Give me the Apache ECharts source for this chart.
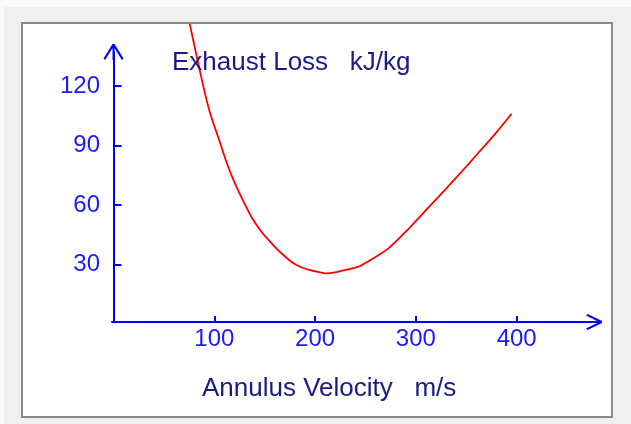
<!DOCTYPE html>
<html>
<head>
<meta charset="utf-8">
<script src="https://cdn.jsdelivr.net/npm/echarts@6/dist/echarts.min.js"></script>
<style>
html,body{margin:0;padding:0;background:#f9fafc;}
#chart{width:631px;height:424px;}
</style>
</head>
<body>
<div id="chart"></div>
<script>
// ---- data ----
var velocity    = [72, 76, 83, 90, 96, 105, 113, 121, 129, 137, 146, 154, 162, 171, 179, 187, 195, 204, 212, 220, 228, 236, 244, 252, 262, 272, 280, 290, 298, 312, 328, 344, 361, 378, 395];
var exhaustLoss = [161, 150.5, 134, 118, 106, 92.5, 80.3, 70.2, 61.7, 53.8, 47, 42.2, 37.8, 33.6, 30.4, 28.4, 27.1, 26.1, 25.4, 26.0, 27.0, 27.9, 29.0, 31.3, 34.3, 37.8, 41.5, 46.5, 50.8, 58.5, 67.1, 76, 85.7, 95.5, 106];
var xTicks = [100, 200, 300, 400];
var yTicks = [30, 60, 90, 120];
var titleText = 'Exhaust Loss   kJ/kg';
var xTitleText = 'Annulus Velocity   m/s';

var points = velocity.map(function (v, i) { return [v, exhaustLoss[i]]; });

var FONT = '"Liberation Sans", Arial, sans-serif';
var AXIS_BLUE = '#0000ff';
var LABEL_BLUE = '#1a1aff';
var NAVY = '#1a1a85';

var yArrow = 'path://M9,0 L11,0 L20,14.6 L18.4,16 L11,4 L11,16 L9,16 L9,4 L1.6,16 L0,14.6 Z';
var xArrow = 'path://M7,0 L9,0 L16,14.4 L14.4,16 L9,5 L9,16 L7,16 L7,5 L1.6,16 L0,14.4 Z';

var xMin = -1.5, xMax = 476.7;
var yMin = 0.9;

var chart = echarts.init(document.getElementById('chart'), null, {renderer: 'canvas'});
chart.setOption({
  backgroundColor: '#f9fafc',
  animation: false,
  graphic: [
    {type: 'rect', z: -10, silent: true, shape: {x: 4, y: 7, width: 627, height: 417}, style: {fill: '#f0f0f0'}},
    {type: 'rect', z: -9, silent: true, shape: {x: 22, y: 23, width: 590, height: 394}, style: {fill: '#ffffff', stroke: '#8a8a8a', lineWidth: 2}}
  ],
  title: [
    {text: titleText, left: 172, top: 50, padding: 0,
     textStyle: {fontFamily: FONT, fontSize: 26, fontWeight: 'normal', color: NAVY}},
    {text: xTitleText, left: 202, top: 376, padding: 0,
     textStyle: {fontFamily: FONT, fontSize: 26, fontWeight: 'normal', color: NAVY}}
  ],
  grid: [
    {left: 112, top: 52, right: 37, bottom: 102, outerBoundsMode: 'none', containLabel: false},
    {left: 112, top: 25, right: 37, bottom: 102, outerBoundsMode: 'none', containLabel: false}
  ],
  xAxis: [
    {type: 'value', gridIndex: 0, min: xMin, max: xMax,
     axisLine: {show: true, lineStyle: {color: AXIS_BLUE, width: 2}, symbol: ['none', xArrow], symbolSize: [16, 16]},
     axisTick: {show: true, inside: true, length: 6, lineStyle: {color: AXIS_BLUE, width: 2}, customValues: xTicks},
     axisLabel: {show: true, margin: 5, color: LABEL_BLUE, fontFamily: FONT, fontSize: 24, customValues: xTicks},
     splitLine: {show: false}},
    {type: 'value', gridIndex: 1, min: xMin, max: xMax, show: false}
  ],
  yAxis: [
    {type: 'value', gridIndex: 0, min: yMin, max: yMin + (322 - 52) / 1.981,
     axisLine: {show: true, lineStyle: {color: AXIS_BLUE, width: 2}, symbol: ['none', yArrow], symbolSize: [20, 16]},
     axisTick: {show: true, inside: true, length: 8, lineStyle: {color: AXIS_BLUE, width: 2}, customValues: yTicks},
     axisLabel: {show: true, margin: 12, color: LABEL_BLUE, fontFamily: FONT, fontSize: 24, customValues: yTicks},
     splitLine: {show: false}},
    {type: 'value', gridIndex: 1, min: yMin, max: yMin + (322 - 25) / 1.981, show: false}
  ],
  series: [
    {type: 'line', xAxisIndex: 1, yAxisIndex: 1, data: points, showSymbol: false, symbol: 'none',
     smooth: 0.3, clip: true, lineStyle: {color: '#ff0000', width: 1.8}}
  ]
});
</script>
</body>
</html>
